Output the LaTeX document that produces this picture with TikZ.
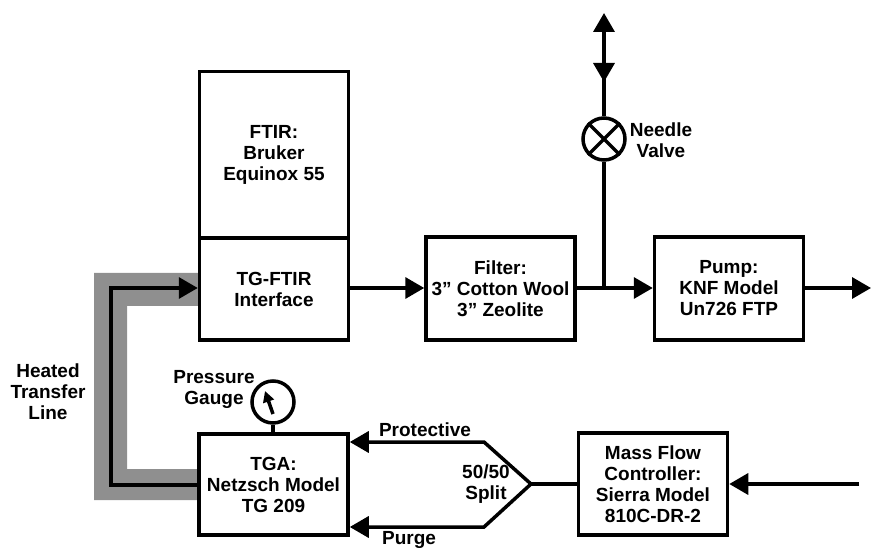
\documentclass[tikz,border=0pt]{standalone}
\usepackage{fontspec}
\setmainfont{Liberation Sans}
\usetikzlibrary{arrows.meta,calc}
\definecolor{band}{gray}{0.56}
\tikzset{
  x=1pt,y=-1pt,
  box/.style={draw=black,line width=3.5pt,fill=white,minimum width=149pt,inner sep=0pt,align=center},
  lbl/.style={inner sep=0pt,align=center},
  line/.style={draw=black,line width=3.5pt},
  flow/.style={line,-{Triangle[length=19pt,width=21pt]}},
  dial/.style={circle,draw=black,line width=3.5pt,fill=white,minimum size=42pt,inner sep=0pt},
}
\begin{document}
\begin{tikzpicture}[font=\fontsize{19}{21}\selectfont\bfseries]
\useasboundingbox (0,0) rectangle (871,548);
% heated band
\fill[band] (199,273) -- (94,273) -- (94,500) -- (199,500) -- (199,469) -- (127,469) -- (127,306) -- (199,306) -- cycle;
% boxes
\node[box,minimum height=167pt] (ftir) at (274,155) {FTIR:\\Bruker\\Equinox 55};
\node[box,minimum height=102pt] (iface) at (274,289) {TG-FTIR\\Interface};
\node[box,minimum height=101pt] (tga) at (273.5,484.5) {TGA:\\Netzsch Model\\TG 209};
\node[box,minimum height=103pt] (filter) at (500.5,288.5) {Filter:\\3” Cotton Wool\\3” Zeolite};
\node[box,minimum height=103pt] (pump) at (729,288.5) {Pump:\\KNF Model\\Un726 FTP};
\node[box,minimum height=102pt] (mfc) at (653,484) {Mass Flow\\Controller:\\Sierra Model\\810C-DR-2};
% free ends and junctions
\coordinate (jn) at (604,288);
\coordinate (top) at (604,13);
\coordinate (mid) at (604,82);
\coordinate (midb) at (604,72);
\coordinate (upper) at (604,40);
\coordinate (pout) at (871,288);
\coordinate (min) at (859,484);
\coordinate (apex) at (531,484);
\coordinate (su) at (484,442);
\coordinate (sd) at (484,527);
\coordinate (tu) at (tga.east |- su);
\coordinate (td) at (tga.east |- sd);
\coordinate (ll) at (111,485);
\coordinate (lu) at (111,288);
\coordinate (tl) at (tga.west |- ll);
\coordinate (il) at (iface.west |- lu);
% valve and gauge
\node[dial] (valve) at (604,139) {};
\node[dial] (gauge) at (273,402) {};
\draw[line width=3.5pt] (valve.north west) -- (valve.south east) (valve.north east) -- (valve.south west);
\coordinate (nb) at (273,414);
\coordinate (nt) at (265,391);
\draw[line width=3.5pt,-{Triangle[length=11pt,width=11pt]}] (nb) -- (nt);
% connectors
\draw[line] (gauge.south) -- (gauge.south |- tga.north);
\draw[flow] (iface.east |- jn) -- (filter.west |- jn);
\draw[line] (filter.east |- jn) -- (jn);
\draw[flow] (jn) -- (pump.west |- jn);
\draw[flow] (pump.east |- jn) -- (pout);
\draw[line] (jn) -- (valve.south);
\draw[line] (valve.north) -- (midb);
\draw[flow] (upper) -- (mid);
\draw[flow] (upper) -- (top);
\draw[flow] (tl) -- (ll) -- (lu) -- (il);
\draw[flow] (min) -- (mfc.east |- min);
\draw[line] (mfc.west |- apex) -- (apex);
\draw[flow,line join=miter] (apex) -- (su) -- (tu);
\draw[flow,line join=miter] (apex) -- (sd) -- (td);
% labels
\node[lbl] (lneedle) at (661,140.5) {Needle\\Valve};
\node[lbl] (lgauge) at (214,389.5) {Pressure\\Gauge};
\node[lbl] (lheat) at (48,392) {Heated\\Transfer\\Line};
\node[lbl] (lprot) at (425,430) {Protective};
\node[lbl] (lpurge) at (409,540) {Purge};
\node[lbl] (lsplit) at (486,484.5) {50/50\\Split};
\end{tikzpicture}
\end{document}
